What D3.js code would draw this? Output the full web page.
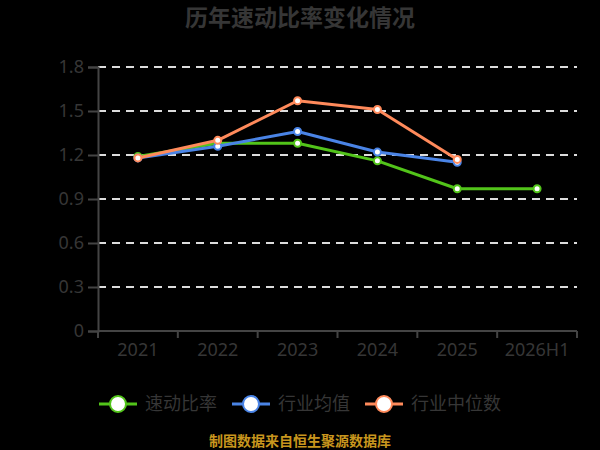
<!DOCTYPE html>
<html>
<head>
<meta charset="utf-8">
<script src="https://cdn.jsdelivr.net/npm/d3@7/dist/d3.min.js"></script>
<style>
  html, body { margin: 0; padding: 0; background: #000; }
  svg { display: block; }
</style>
</head>
<body>
<svg id="chart" width="600" height="450"></svg>
<script>
const categories = ["2021", "2022", "2023", "2024", "2025", "2026H1"];
const quickRatio = [1.19, 1.28, 1.28, 1.16, 0.97, 0.97];
const industryAvg = [1.18, 1.26, 1.36, 1.22, 1.15, null];
const industryMedian = [1.18, 1.30, 1.57, 1.51, 1.17, null];
const yTicks = [0, 0.3, 0.6, 0.9, 1.2, 1.5, 1.8];
const seriesNames = ["速动比率", "行业均值", "行业中位数"];
const seriesColors = ["#52c41a", "#4a84e6", "#ff8a5b"];
const titleText = "历年速动比率变化情况";
const sourceText = "制图数据来自恒生聚源数据库";

const series = [quickRatio, industryAvg, industryMedian];
const W = 600, H = 450;
const margin = { left: 98, right: 23, top: 67, bottom: 119 };
const svg = d3.select("#chart");
const font = "'Noto Sans', 'Noto Sans CJK SC', sans-serif";
const textColor = "#363636";

svg.append("rect").attr("width", W).attr("height", H).attr("fill", "#000");

const x = d3.scaleBand().domain(categories).range([margin.left, W - margin.right]);
const y = d3.scaleLinear().domain([0, 1.8]).range([H - margin.bottom, margin.top]);

// title
svg.append("text")
  .attr("x", W / 2).attr("y", 26)
  .attr("text-anchor", "middle")
  .attr("font-family", font).attr("font-size", 23).attr("font-weight", "bold")
  .attr("fill", textColor)
  .text(titleText);

// gridlines
svg.append("g").selectAll("line").data(yTicks).join("line")
  .attr("x1", margin.left).attr("x2", W - margin.right)
  .attr("y1", d => y(d)).attr("y2", d => y(d))
  .attr("stroke", d => d === 0 ? "#444" : "#dcdcdc")
  .attr("stroke-width", 2)
  .attr("stroke-dasharray", "8,6");

// y axis
const yAxis = svg.append("g")
  .attr("transform", `translate(${margin.left},0)`)
  .call(d3.axisLeft(y).tickValues(yTicks).tickFormat(d => d === 0 ? "0" : d3.format(".1f")(d)).tickSize(10).tickPadding(4));
yAxis.select(".domain").attr("stroke", "#444").attr("stroke-width", 2);
yAxis.selectAll(".tick line").attr("stroke", "#444").attr("stroke-width", 2);
yAxis.selectAll(".tick text").attr("fill", textColor).attr("font-size", 18).attr("font-family", font);

// x axis
const xAxis = svg.append("g")
  .attr("transform", `translate(0,${y(0)})`)
  .call(d3.axisBottom(x).tickSize(0).tickPadding(12));
xAxis.select(".domain").attr("stroke", "#444").attr("stroke-width", 2)
  .attr("d", `M${margin.left},0H${W - margin.right}`);
xAxis.selectAll(".tick text").attr("fill", textColor).attr("font-size", 18).attr("font-family", font);
const bounds = categories.map(c => x(c)).concat([x(categories[categories.length - 1]) + x.bandwidth()]);
xAxis.append("g").selectAll("line").data(bounds).join("line")
  .attr("x1", d => d).attr("x2", d => d).attr("y1", 0).attr("y2", 7)
  .attr("stroke", "#444").attr("stroke-width", 2);

// lines
const lineGen = d3.line()
  .defined(d => d.v !== null)
  .x(d => x(d.c) + x.bandwidth() / 2)
  .y(d => y(d.v));

[0, 1, 2].forEach(i => {
  const pts = categories.map((c, j) => ({ c, v: series[i][j] }));
  svg.append("path")
    .datum(pts)
    .attr("d", lineGen)
    .attr("fill", "none")
    .attr("stroke", seriesColors[i])
    .attr("stroke-width", 3)
    .attr("stroke-linejoin", "round");
  svg.append("g").selectAll("circle").data(pts.filter(d => d.v !== null)).join("circle")
    .attr("cx", d => x(d.c) + x.bandwidth() / 2)
    .attr("cy", d => y(d.v))
    .attr("r", 3.5)
    .attr("fill", "#fff")
    .attr("stroke", seriesColors[i])
    .attr("stroke-width", 2);
});

// legend
const legendX = [99, 232, 365];
const legendY = 404;
seriesNames.forEach((name, i) => {
  const g = svg.append("g").attr("transform", `translate(${legendX[i]},${legendY})`);
  g.append("line").attr("x1", 0).attr("x2", 38).attr("y1", 0).attr("y2", 0)
    .attr("stroke", seriesColors[i]).attr("stroke-width", 3);
  g.append("circle").attr("cx", 19).attr("cy", 0).attr("r", 8)
    .attr("fill", "#fff").attr("stroke", seriesColors[i]).attr("stroke-width", 2);
  g.append("text").attr("x", 46).attr("y", 0).attr("dy", "0.35em")
    .attr("font-family", font).attr("font-size", 18).attr("fill", textColor)
    .text(name);
});

// source
svg.append("text")
  .attr("x", W / 2).attr("y", 441).attr("dy", "0.35em")
  .attr("text-anchor", "middle")
  .attr("font-family", font).attr("font-size", 14).attr("font-weight", "bold")
  .attr("fill", "#c8961e")
  .text(sourceText);
</script>
</body>
</html>
